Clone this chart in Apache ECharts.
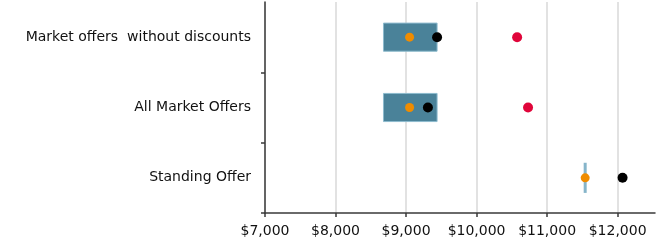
<!DOCTYPE html>
<html>
<head>
<meta charset="utf-8">
<script src="https://cdn.jsdelivr.net/npm/echarts@6/dist/echarts.min.js"></script>
<style>html,body{margin:0;padding:0;background:#fff;}#c{width:660px;height:247px;}</style>
</head>
<body>
<div id="c"></div>
<script>
const categories = ['Market offers  without discounts', 'All Market Offers', 'Standing Offer'];
const boxLow = [8680, 8680, 11540];
const boxHigh = [9440, 9440, 11540];
const orangeVals = [9050, 9050, 11540];
const blackVals = [9440, 9310, 12070];
const redVals = [10575, 10730, null];
const tickValues = [7000, 8000, 9000, 10000, 11000, 12000];

const font = 'DejaVu Sans';
const chart = echarts.init(document.getElementById('c'), null, {renderer: 'canvas'});

const boxData = categories.map((c, i) => [boxLow[i], boxHigh[i], i]);
const pts = arr => arr.map((v, i) => v == null ? null : [v, i]).filter(d => d);

chart.setOption({
  animation: false,
  grid: {left: 265, right: 5, top: 2, bottom: 34, containLabel: false},
  xAxis: {
    type: 'value', min: 7000, max: 12530, interval: 1000,
    axisLine: {show: true, lineStyle: {color: '#3a3a3a', width: 1.5}},
    axisTick: {show: true, length: 4, customValues: tickValues, lineStyle: {color: '#3a3a3a', width: 1.5}},
    axisLabel: {customValues: tickValues, color: '#111', fontFamily: font, fontSize: 14, margin: 11,
      formatter: v => '$' + v.toLocaleString('en-US')},
    splitLine: {show: true, lineStyle: {color: ['#e2e2e2','#e2e2e2','#e2e2e2','#e2e2e2','#e2e2e2','#e2e2e2','rgba(0,0,0,0)'], width: 2}}
  },
  yAxis: {
    type: 'category', data: categories, inverse: true,
    axisLine: {show: true, lineStyle: {color: '#3a3a3a', width: 1.5}},
    axisTick: {show: true, length: 4, interval: function (i) { return i !== 0; }, lineStyle: {color: '#3a3a3a', width: 1.5}},
    axisLabel: {color: '#111', fontFamily: font, fontSize: 14, margin: 14},
    splitLine: {show: false}
  },
  series: [
    {
      type: 'custom',
      data: boxData,
      encode: {x: [0, 1], y: 2},
      renderItem: function (params, api) {
        const yi = api.value(2);
        const p1 = api.coord([api.value(0), yi]);
        const p2 = api.coord([api.value(1), yi]);
        const band = api.size([0, 1])[1];
        const h = band * 0.4;
        if (p2[0] - p1[0] < 1) {
          return {type: 'line', shape: {x1: p1[0], y1: p1[1] - h / 2 - 1, x2: p1[0], y2: p1[1] + h / 2 + 1},
            style: {stroke: '#86b5ca', lineWidth: 3}};
        }
        return {type: 'rect', shape: {x: p1[0], y: p1[1] - h / 2, width: p2[0] - p1[0], height: h},
          style: {fill: '#4a8299', stroke: '#8dbbce', lineWidth: 1}};
      },
      z: 2
    },
    {type: 'scatter', data: pts(orangeVals), symbolSize: 9, itemStyle: {color: '#f08c00', opacity: 1}, z: 3},
    {type: 'scatter', data: pts(blackVals), symbolSize: 10, itemStyle: {color: '#000', opacity: 1}, z: 4},
    {type: 'scatter', data: pts(redVals), symbolSize: 10, itemStyle: {color: '#e0053a', opacity: 1}, z: 4}
  ]
});
</script>
</body>
</html>
